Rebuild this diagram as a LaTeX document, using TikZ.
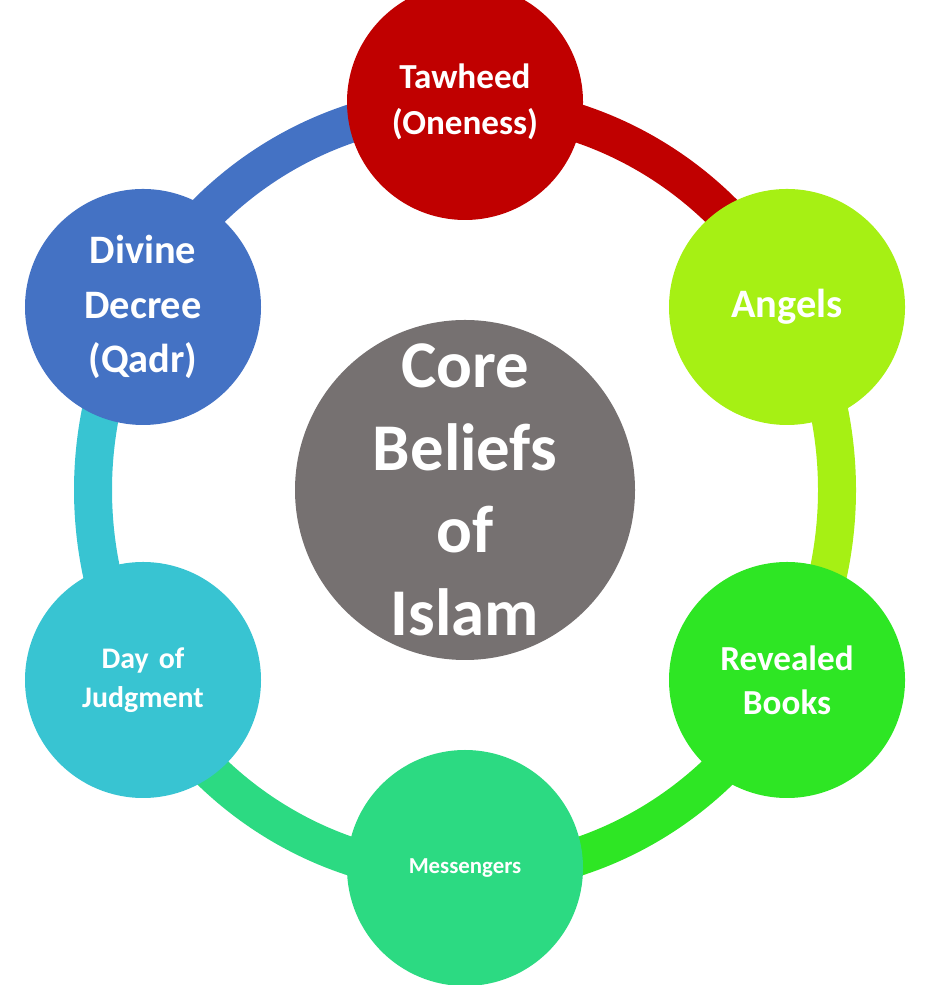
\documentclass[tikz,border=0pt]{standalone}
\usepackage{fontspec}
\setmainfont{Carlito}
\definecolor{tawheedred}{HTML}{C00000}
\definecolor{angelslime}{HTML}{A6F014}
\definecolor{booksgreen}{HTML}{2EE624}
\definecolor{messgreen}{HTML}{2CDA82}
\definecolor{daycyan}{HTML}{38C4D2}
\definecolor{decreeblue}{HTML}{4472C4}
\definecolor{coregray}{HTML}{767171}
\tikzset{
  belief/.style={circle, minimum size=2.36cm, inner sep=0pt, text=white,
    align=center, text width=1.5cm},
  ringpart/.style={line width=0.38cm},
}
\begin{document}
\begin{tikzpicture}
\useasboundingbox (0,0) rectangle (9.30,9.85);
\coordinate (mid) at (4.65,4.95);

% ring segments
\draw[ringpart, tawheedred] ([shift={(90:3.72 and 3.85)}]mid) arc[start angle=90, end angle=30, x radius=3.72, y radius=3.85];
\draw[ringpart, angelslime] ([shift={(30:3.72 and 3.85)}]mid) arc[start angle=30, end angle=-30, x radius=3.72, y radius=3.85];
\draw[ringpart, booksgreen] ([shift={(-30:3.72 and 3.85)}]mid) arc[start angle=-30, end angle=-90, x radius=3.72, y radius=3.85];
\draw[ringpart, messgreen] ([shift={(-90:3.72 and 3.85)}]mid) arc[start angle=-90, end angle=-150, x radius=3.72, y radius=3.85];
\draw[ringpart, daycyan] ([shift={(-150:3.72 and 3.85)}]mid) arc[start angle=-150, end angle=-210, x radius=3.72, y radius=3.85];
\draw[ringpart, decreeblue] ([shift={(150:3.72 and 3.85)}]mid) arc[start angle=150, end angle=90, x radius=3.72, y radius=3.85];

% centre
\node[circle, fill=coregray, minimum size=3.4cm, inner sep=0pt] (core) at (mid) {};
\node[text=white, align=center, inner sep=0pt,
  font=\bfseries\fontsize{19}{23.5}\selectfont] (coretext) at (core) {Core\\Beliefs\\of\\Islam};

% beliefs
\node[belief, fill=tawheedred, font=\bfseries\fontsize{10}{13}\selectfont] (tawheed) at (4.65,8.83) {Tawheed\\(Oneness)};
\node[belief, fill=angelslime, font=\bfseries\fontsize{11.5}{14}\selectfont] (angels) at (7.87,6.78) {Angels};
\node[belief, fill=booksgreen, font=\bfseries\fontsize{10}{12.5}\selectfont] (books) at (7.87,3.05) {Revealed\\Books};
\node[belief, fill=messgreen, font=\bfseries\fontsize{6.5}{8}\selectfont] (messengers) at (4.65,1.17) {Messengers};
\node[belief, fill=daycyan, font=\bfseries\fontsize{8.5}{11}\selectfont] (judgment) at (1.43,3.05) {Day of\\Judgment};
\node[belief, fill=decreeblue, font=\bfseries\fontsize{11.5}{15.5}\selectfont] (decree) at (1.43,6.78) {Divine\\Decree\\(Qadr)};
\end{tikzpicture}
\end{document}
